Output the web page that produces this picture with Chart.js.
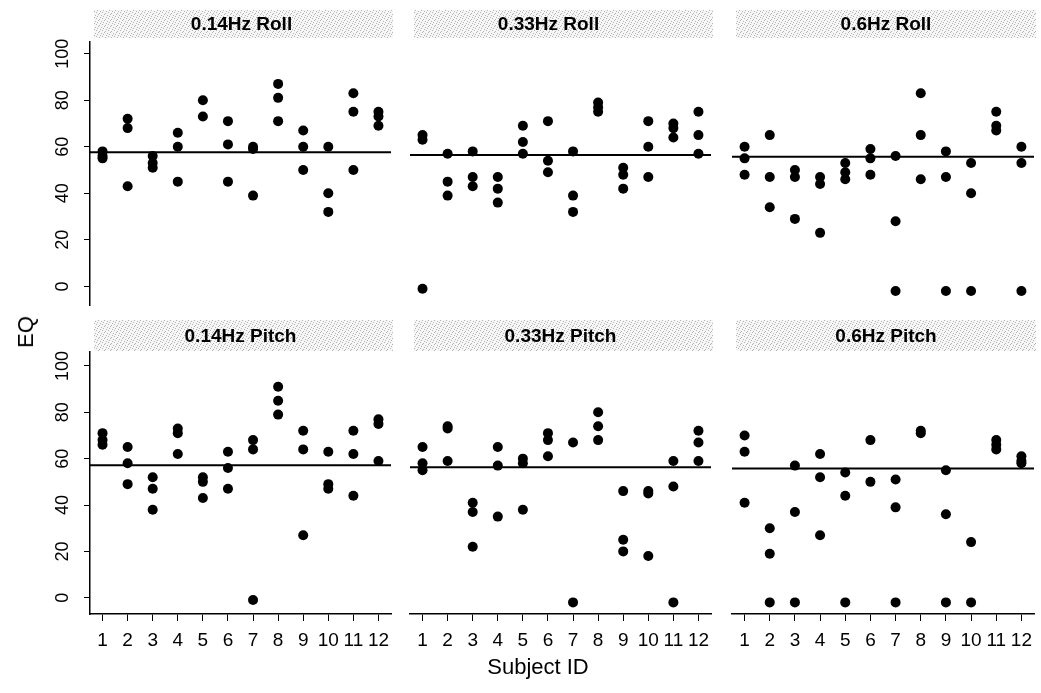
<!DOCTYPE html>
<html>
<head>
<meta charset="utf-8">
<script src="https://cdn.jsdelivr.net/npm/chart.js@4.4.1/dist/chart.umd.min.js"></script>
<style>
  body { margin: 0; background: #fff; }
  #wrap { position: relative; width: 1041px; height: 693px; overflow: hidden; background: #fff; }
  #wrap canvas { position: absolute; left: 0; top: 0; }
  .lbl { position: absolute; font-family: "Liberation Sans", Arial, sans-serif; color: #000; white-space: nowrap; }
  #xlab { left: 538px; top: 667px; font-size: 22px; transform: translate(-50%, -50%); }
  #ylab { left: 26px; top: 332px; font-size: 22px; transform: translate(-50%, -50%) rotate(-90deg); }
</style>
</head>
<body>
<div id="wrap">
  <canvas id="p0" width="1041" height="693"></canvas>
  <canvas id="p1" width="1041" height="693"></canvas>
  <canvas id="p2" width="1041" height="693"></canvas>
  <canvas id="p3" width="1041" height="693"></canvas>
  <canvas id="p4" width="1041" height="693"></canvas>
  <canvas id="p5" width="1041" height="693"></canvas>
  <div class="lbl" id="xlab">Subject ID</div>
  <div class="lbl" id="ylab">EQ</div>
</div>
<script>
// data: EQ per subject (1..12), up to 3 trials each
var subjects = [1, 2, 3, 4, 5, 6, 7, 8, 9, 10, 11, 12];
var yTicks = [0, 20, 40, 60, 80, 100];
var titles = ['0.14Hz Roll', '0.33Hz Roll', '0.6Hz Roll', '0.14Hz Pitch', '0.33Hz Pitch', '0.6Hz Pitch'];

var roll014 = [[58, 56, 55], [72, 68, 43], [56, 53, 51], [66, 60, 45], [80, 73], [71, 61, 45],
               [60, 59, 39], [87, 81, 71], [67, 60, 50], [60, 40, 32], [83, 75, 50], [75, 73, 69]];
var roll033 = [[65, 63, -1], [57, 45, 39], [58, 47, 43], [47, 42, 36], [69, 62, 57], [71, 54, 49],
               [58, 39, 32], [79, 77, 75], [51, 48, 42], [71, 60, 47], [70, 68, 64], [75, 65, 57]];
var roll06 = [[60, 55, 48], [65, 47, 34], [50, 47, 29], [47, 44, 23], [53, 49, 46], [59, 55, 48],
              [56, 28, -2], [83, 65, 46], [58, 47, -2], [53, 40, -2], [75, 69, 67], [60, 53, -2]];
var pitch014 = [[71, 68, 66], [65, 58, 49], [52, 47, 38], [73, 71, 62], [52, 50, 43], [63, 56, 47],
                [68, 64, -1], [91, 85, 79], [72, 64, 27], [63, 49, 47], [72, 62, 44], [77, 75, 59]];
var pitch033 = [[65, 58, 55], [74, 73, 59], [41, 37, 22], [65, 57, 35], [60, 58, 38], [71, 68, 61],
                [67, -2], [80, 74, 68], [46, 25, 20], [46, 45, 18], [59, 48, -2], [72, 67, 59]];
var pitch06 = [[70, 63, 41], [30, 19, -2], [57, 37, -2], [62, 52, 27], [54, 44, -2], [68, 50],
               [51, 39, -2], [72, 71], [55, 36, -2], [24, -2], [68, 66, 64], [61, 59, 58]];
var meanEQ = [57.6, 56.4, 55.7, 57.2, 56.3, 55.7];

var series = [roll014, roll033, roll06, pitch014, pitch033, pitch06];

// layout of the 3x2 grid (pixels)
var cols = [{ left: 90, right: 391 }, { left: 410, right: 711 }, { left: 732, right: 1034 }];
var rows = [
  { top: 42, bottom: 305, ymin: -8, ymax: 105, stripTop: 10, stripBot: 38, titleY: 25 },
  { top: 352, bottom: 614, ymin: -7, ymax: 106, stripTop: 320, stripBot: 351, titleY: 337 }
];
var titleShift = [1, -12, 3, 0, 0, 3];
var xMin = 0.5, xMax = 12.5;
var FONT = '"Liberation Sans", Arial, sans-serif';

// stippled strip background
function makePattern() {
  var c = document.createElement('canvas');
  c.width = 6; c.height = 6;
  var g = c.getContext('2d');
  g.fillStyle = '#f6f6f6';
  g.fillRect(0, 0, 6, 6);
  g.fillStyle = '#b4b4b4';
  [[0, 0], [3, 1], [5, 3], [1, 4], [4, 5], [2, 2]].forEach(function (p) { g.fillRect(p[0], p[1], 1, 1); });
  return g.createPattern(c, 'repeat');
}

var stripPlugin = {
  id: 'strip',
  beforeDraw: function (chart) {
    var o = chart.options.plugins.strip;
    var a = chart.chartArea, ctx = chart.ctx;
    ctx.save();
    ctx.fillStyle = makePattern();
    ctx.fillRect(a.left + 4, o.top, a.right - a.left - 2, o.bottom - o.top);
    ctx.fillStyle = '#000';
    ctx.font = 'bold 19px ' + FONT;
    ctx.textAlign = 'center';
    ctx.textBaseline = 'middle';
    ctx.fillText(o.title, (a.left + a.right) / 2 + o.shift, o.titleY);
    ctx.restore();
  }
};

var yLabelPlugin = {
  id: 'yLabels',
  afterDraw: function (chart) {
    if (!chart.options.plugins.yLabels.show) return;
    var y = chart.scales.y, ctx = chart.ctx;
    ctx.save();
    ctx.font = '18px ' + FONT;
    ctx.fillStyle = '#000';
    ctx.textAlign = 'center';
    ctx.textBaseline = 'middle';
    yTicks.forEach(function (t) {
      var py = y.getPixelForValue(t);
      ctx.save();
      ctx.translate(y.right - 27, py);
      ctx.rotate(-Math.PI / 2);
      ctx.fillText(String(t), 0, 0);
      ctx.restore();
    });
    ctx.restore();
  }
};

series.forEach(function (s, k) {
  var col = cols[k % 3], row = rows[Math.floor(k / 3)];
  var showY = (k % 3 === 0), showX = (k >= 3);
  var pts = [];
  s.forEach(function (vals, i) {
    vals.forEach(function (v) { pts.push({ x: subjects[i], y: v }); });
  });
  var yW = showY ? 40 : 0, xH = showX ? 60 : 0;

  new Chart(document.getElementById('p' + k), {
    type: 'scatter',
    data: {
      datasets: [{
        data: pts,
        backgroundColor: '#000',
        borderWidth: 0,
        pointRadius: 5
      }, {
        type: 'line',
        data: [{ x: xMin, y: meanEQ[k] }, { x: xMax, y: meanEQ[k] }],
        borderColor: '#000',
        borderWidth: 2,
        pointRadius: 0
      }]
    },
    options: {
      responsive: false,
      animation: false,
      devicePixelRatio: 1,
      events: [],
      layout: {
        padding: {
          left: col.left - yW,
          right: 1041 - col.right,
          top: row.top,
          bottom: 693 - row.bottom - xH
        }
      },
      scales: {
        x: {
          type: 'linear',
          display: showX,
          min: xMin,
          max: xMax,
          afterBuildTicks: function (sc) { sc.ticks = subjects.map(function (v) { return { value: v }; }); },
          afterFit: function (sc) { sc.height = xH; },
          grid: { drawOnChartArea: false, drawTicks: true, tickLength: 7, color: '#000', lineWidth: 1 },
          border: { display: true, color: '#000', width: 1.5 },
          ticks: { color: '#000', font: { family: FONT, size: 19 }, padding: 8, maxRotation: 0, autoSkip: false }
        },
        y: {
          type: 'linear',
          display: showY,
          min: row.ymin,
          max: row.ymax,
          afterBuildTicks: function (sc) { sc.ticks = yTicks.map(function (v) { return { value: v }; }); },
          afterFit: function (sc) { sc.width = yW; },
          grid: { drawOnChartArea: false, drawTicks: true, tickLength: 6, color: '#000', lineWidth: 1 },
          border: { display: true, color: '#000', width: 1.5 },
          ticks: { display: false }
        }
      },
      plugins: {
        legend: { display: false },
        tooltip: { enabled: false },
        strip: { title: titles[k], top: row.stripTop, bottom: row.stripBot, titleY: row.titleY, shift: titleShift[k] },
        yLabels: { show: showY }
      }
    },
    plugins: [stripPlugin, yLabelPlugin]
  });
});
</script>
</body>
</html>
